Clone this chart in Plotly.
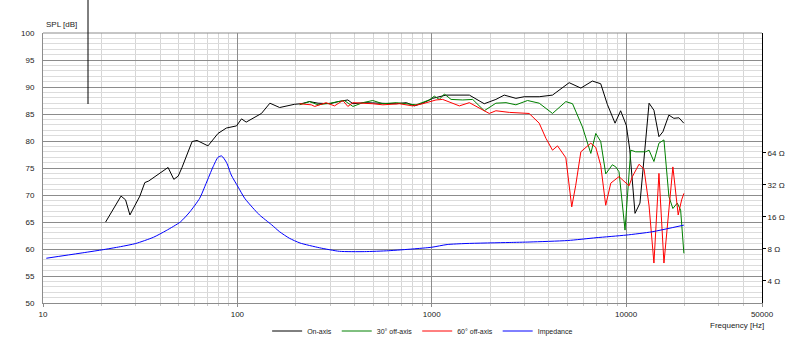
import plotly.graph_objects as go
import numpy as np

# ---------------- data ----------------
f_on = [21, 25.2, 26.6, 28.0, 31.5, 33.4, 35.0, 44.0, 47.1, 49.6, 51.9, 58.5, 62.0, 70.6, 79.5,
        87.8, 99, 105, 111, 133, 147, 165, 197, 213, 235, 260, 300, 330, 370, 393, 450, 538,
        656, 740, 815, 898, 1011, 1183, 1334, 1561, 1862, 2138, 2360, 2710, 2990, 3571, 4180,
        5093, 5848, 6703, 7400, 8000, 8770, 9370, 10020, 10430, 11110, 11780, 13120, 13900,
        14750, 15450, 16590, 17600, 18690, 19800]
spl_on = [65.0, 69.8, 69.1, 66.3, 69.8, 72.3, 72.6, 75.1, 72.9, 73.5, 75.1, 79.9, 80.1, 79.1,
          81.4, 82.4, 82.8, 84.1, 83.5, 85.1, 87.0, 86.2, 86.8, 86.9, 87.3, 87.0, 86.9, 87.3,
          87.6, 86.9, 87.1, 87.0, 86.9, 87.1, 86.5, 87.0, 87.9, 88.5, 88.5, 88.5, 86.9, 87.7,
          88.5, 87.9, 88.2, 88.2, 88.5, 90.8, 89.8, 91.1, 90.6, 86.8, 83.3, 85.6, 82.9, 78.5,
          66.6, 68.5, 87.0, 85.7, 80.8, 81.7, 84.8, 84.2, 84.3, 83.3]

f_30 = [209, 235, 260, 300, 355, 393, 442, 497, 560, 656, 830, 972, 1031, 1093, 1161, 1257,
        1442, 1624, 1862, 2138, 2410, 2710, 3111, 3571, 4180, 4895, 5300, 5960, 6580, 6980,
        7400, 7854, 8493, 8847, 9190, 9870, 10560, 11200, 12600, 13120, 13900, 14750, 15650,
        16600, 17400, 18330, 19070, 19820]
spl_30 = [86.7, 87.3, 86.7, 87.0, 87.5, 86.4, 87.1, 87.5, 86.9, 87.1, 86.7, 87.6, 88.3, 87.7,
          88.7, 87.7, 87.6, 87.7, 85.6, 87.0, 87.1, 86.7, 87.5, 87.0, 85.1, 87.3, 86.9, 82.6,
          77.7, 81.4, 79.9, 73.9, 75.6, 75.2, 74.3, 63.5, 78.3, 78.0, 78.0, 78.3, 76.2, 79.6,
          80.2, 69.7, 67.5, 68.5, 67.2, 59.2]

f_60 = [209, 240, 250, 286, 316, 349, 370, 393, 497, 560, 682, 797, 898, 972, 1051, 1138,
        1387, 1561, 1862, 1977, 2138, 2505, 3170, 3571, 3866, 4180, 4436, 4895, 5250, 5505,
        5848, 6580, 6980, 7400, 7850, 8340, 9190, 10350, 10770, 11650, 12360, 13120, 13900,
        14750, 15650, 16600, 17400, 18530, 19300, 19820]
spl_60 = [86.9, 86.7, 86.4, 87.1, 86.5, 87.5, 86.4, 87.1, 86.9, 86.7, 86.9, 86.5, 86.9, 87.3,
          87.6, 87.7, 86.5, 87.1, 85.7, 85.1, 85.6, 85.3, 85.1, 83.3, 80.5, 78.3, 79.1, 76.9,
          67.8, 71.8, 78.0, 79.6, 78.8, 75.5, 68.1, 72.2, 73.4, 71.7, 73.4, 75.7, 74.8, 68.0,
          57.4, 74.0, 57.4, 67.2, 75.2, 66.3, 69.1, 70.3]

f_imp = [10.4, 15.5, 20, 25, 30, 37, 43, 51, 57, 64, 69, 75, 79.5, 83, 88, 93, 101, 109, 120,
         130, 150, 165, 185, 210, 265, 335, 450, 600, 800, 1000, 1200, 1500, 2500, 3200, 5000,
         7000, 10000, 13600, 19800]
z_imp = [6.54, 7.29, 7.83, 8.4, 9.0, 10.3, 11.9, 14.4, 17.9, 24.0, 33.0, 47.5, 58.3, 60.0,
         51.9, 39.7, 30.5, 24.0, 19.5, 16.7, 13.5, 11.6, 10.1, 9.1, 8.2, 7.6, 7.55, 7.7, 8.0,
         8.3, 8.8, 9.0, 9.2, 9.3, 9.6, 10.2, 10.8, 11.6, 13.4]

x_tickvals = [10, 100, 1000, 10000, 50000]
x_ticktext = ["10", "100", "1000", "10000", "50000"]
y_tickvals = list(range(50, 101, 5))
z_tickvals = [4, 8, 16, 32, 64]
z_ticktext = ["4 \u03a9", "8 \u03a9", "16 \u03a9", "32 \u03a9", "64 \u03a9"]

# ---------------- figure ----------------
FONT = "Liberation Sans, Arial, sans-serif"
fig = go.Figure()
fig.add_trace(go.Scatter(x=f_on, y=spl_on, mode="lines", name="On-axis",
                         line=dict(color="#000000", width=1)))
fig.add_trace(go.Scatter(x=f_30, y=spl_30, mode="lines", name="30\u00b0 off-axis",
                         line=dict(color="#008000", width=1)))
fig.add_trace(go.Scatter(x=f_60, y=spl_60, mode="lines", name="60\u00b0 off-axis",
                         line=dict(color="#ff0000", width=1)))
fig.add_trace(go.Scatter(x=f_imp, y=z_imp, mode="lines", name="Impedance", yaxis="y2",
                         line=dict(color="#0000ff", width=1, shape="spline", smoothing=0.6)))

minor_x = [m * 10 ** d for d in range(1, 5) for m in range(2, 10) if m * 10 ** d < 50000]

fig.update_layout(
    width=790, height=351,
    margin=dict(l=43, r=28, t=33, b=48, autoexpand=False),
    paper_bgcolor="white", plot_bgcolor="white",
    font=dict(family=FONT, size=8, color="#222222"),
    showlegend=True,
    legend=dict(orientation="h", x=0.528, xanchor="center",
                yref="container", y=1 - 331 / 351, yanchor="middle",
                font=dict(size=7, family=FONT), itemwidth=30, tracegroupgap=0,
                bgcolor="rgba(0,0,0,0)"),
    xaxis=dict(type="log", range=[1, np.log10(50000)], tickmode="array",
               tickvals=x_tickvals, ticktext=x_ticktext, automargin=False,
               showgrid=True, gridcolor="#8c8c8c", gridwidth=1,
               showline=True, linecolor="#8c8c8c", linewidth=1,
               ticks="outside", ticklen=3, tickcolor="#8c8c8c",
               minor=dict(tickmode="array", tickvals=minor_x, showgrid=True,
                          gridcolor="#d6d6d6", ticks="outside", ticklen=2, tickcolor="#c8c8c8"),
               zeroline=False, tickfont=dict(size=8)),
    yaxis=dict(range=[50, 100], tickmode="array", tickvals=y_tickvals, automargin=False,
               showgrid=True, gridcolor="#8c8c8c", gridwidth=1,
               showline=True, linecolor="#8c8c8c", linewidth=1, mirror=False,
               minor=dict(dtick=1, showgrid=True, gridcolor="#dcdcdc"),
               zeroline=False, ticks="", ticklabelstandoff=6, tickfont=dict(size=8)),
    yaxis2=dict(type="log", overlaying="y", side="right", automargin=False,
                range=[np.log10(2.48), np.log10(861)],
                tickmode="array", tickvals=z_tickvals, ticktext=z_ticktext,
                showgrid=False, showline=True, linecolor="#000000", linewidth=1,
                ticks="outside", ticklen=3, tickcolor="#000000", zeroline=False,
                tickfont=dict(size=8)),
)

# top border
fig.add_shape(type="line", xref="paper", yref="paper", x0=0, x1=1, y0=1, y1=1,
              line=dict(color="#8c8c8c", width=1))
# stray vertical marker line above the plot (as in the source image)
fig.add_shape(type="line", xref="paper", yref="paper", x0=0.0626, x1=0.0626, y0=0.737, y1=1.13,
              line=dict(color="#000000", width=1))

fig.add_annotation(text="SPL [dB]", xref="paper", yref="paper", x=0.002, y=1.033,
                   xanchor="left", yanchor="middle", showarrow=False,
                   font=dict(size=8, family=FONT))
fig.add_annotation(text="Frequency [Hz]", xref="paper", yref="paper", x=1.005, y=-0.082,
                   xanchor="right", yanchor="middle", showarrow=False,
                   font=dict(size=8, family=FONT))

fig.write_html("out.html")
